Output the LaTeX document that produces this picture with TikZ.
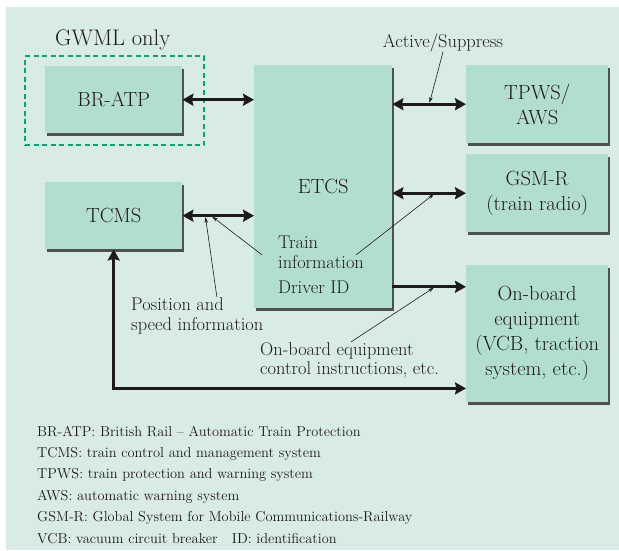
\documentclass[tikz,border=0pt]{standalone}
\usetikzlibrary{arrows.meta, shadows}

\begin{document}
\begin{tikzpicture}[x = 1pt, y = -1pt,
        unit/.style = {rectangle, fill = myboxgreen, anchor = north west, align = center, inner sep = 0pt, text = mytext, font = \fontsize{20.5}{25}\selectfont, drop shadow = {shadow xshift = 2pt, shadow yshift = -2.5pt, fill = black!75, opacity = 0.9}},
        note/.style = {anchor = base west, inner sep = 0pt, text = mytext, font = \fontsize{18.4}{20}\selectfont},
        legend/.style = {anchor = base west, inner sep = 0pt, text = mytext, font = \fontsize{14.4}{21}\selectfont},
        biarrow/.style = {draw = mytext, line width = 2.6pt, {Stealth[length = 11pt, width = 12pt, inset = 1.5pt]}-{Stealth[length = 11pt, width = 12pt, inset = 1.5pt]}},
        uniarrow/.style = {draw = mytext, line width = 2.6pt, -{Stealth[length = 11pt, width = 12pt, inset = 1.5pt]}},
        pointer/.style = {draw = mytext, line width = 0.6pt, shorten > = 1.3pt, -{Stealth[length = 6pt, width = 3.5pt]}}]
        \useasboundingbox (0, 0) rectangle (619, 550);
        \definecolor{mybackground}{RGB}{217,236,228}
        \definecolor{myboxgreen}{RGB}{178,222,208}
        \definecolor{mydashgreen}{RGB}{0,168,120}
        \definecolor{mytext}{RGB}{30,26,27}

        \fill[mybackground] (6, 7) rectangle (619, 550);

        \node[draw = mydashgreen, dash pattern = on 5pt off 3.5pt, line width = 2pt, anchor = north west, minimum width = 179pt, minimum height = 89pt] at (24, 55) (gwmlFrame) {};
        \node[anchor = base west, inner sep = 0pt, text = mytext, font = \fontsize{22.5}{25}\selectfont] at (55, 45) (gwmlLbl) {GWML only};

        \node[unit, minimum width = 137pt, minimum height = 67pt] at (45, 66) (brAtp) {BR-ATP};
        \node[unit, minimum width = 137pt, minimum height = 67pt] at (45, 182) (tcms) {TCMS};
        \node[unit, minimum width = 138pt, minimum height = 243pt] at (254, 65) (etcs) {ETCS};
        \node[unit, minimum width = 142pt, minimum height = 78pt] at (466, 65) (tpws) {TPWS/\\AWS};
        \node[unit, minimum width = 142pt, minimum height = 78pt] at (466, 154) (gsmr) {GSM-R\\(train radio)};
        \node[unit, minimum width = 142pt, minimum height = 137pt] at (466, 265) (onBoard) {On-board\\equipment\\(VCB, traction\\system, etc.)};

        \node[note] at (278, 248) (trainLbl) {Train};
        \node[note] at (278, 268) (infoLbl) {information};
        \node[note] at (278, 293) (driverLbl) {Driver ID};
        \node[note, anchor = base] at (443, 47) (suppLbl) {Active/Suppress};
        \node[note] at (131, 310) (posLbl) {Position and};
        \node[note] at (131, 330) (speedLbl) {speed information};
        \node[note] at (260, 355) (ctrlLbl) {On-board equipment};
        \node[note] at (260, 374) (instrLbl) {control instructions, etc.};

        \path[biarrow] (brAtp.east) -- (brAtp.east -| etcs.west);
        \path[biarrow] (etcs.east |- tpws.west) -- (tpws.west) coordinate[pos = 0.5] (suppTip);
        \path[biarrow] (etcs.east |- gsmr.west) -- (gsmr.west) coordinate[pos = 0.58] (gsmTip);
        \path[biarrow] (tcms.east) -- (tcms.east -| etcs.west) coordinate[pos = 0.32] (posTip) coordinate[pos = 0.4] (infoTip);
        \path[uniarrow] (driverLbl.center -| etcs.east) -- (driverLbl.center -| onBoard.west) coordinate[pos = 0.58] (ctrlTip);
        \coordinate (loopEnd) at ([yshift = 14pt] onBoard.south west);
        \path[biarrow] (tcms.south) |- (loopEnd);

        \path[pointer] (suppLbl.south) -- (suppTip);
        \path[pointer] ([xshift = -7pt] posLbl.north east) -- (posTip);
        \path[pointer] ([xshift = -16pt] infoLbl.north west) -- (infoTip);
        \path[pointer] ([xshift = -8pt] infoLbl.north east) -- (gsmTip);
        \path[pointer] ([xshift = 91pt] ctrlLbl.north west) -- (ctrlTip);

        \node[legend] at (37, 436) (l0) {BR-ATP: British Rail -- Automatic Train Protection};
        \node[legend] at (37, 457.4) (l1) {TCMS: train control and management system};
        \node[legend] at (37, 478.8) (l2) {TPWS: train protection and warning system};
        \node[legend] at (37, 500.2) (l3) {AWS: automatic warning system};
        \node[legend] at (37, 521.6) (l4) {GSM-R: Global System for Mobile Communications-Railway};
        \node[legend] at (37, 543) (l5) {VCB: vacuum circuit breaker\quad ID: identification};
\end{tikzpicture}
\end{document}
